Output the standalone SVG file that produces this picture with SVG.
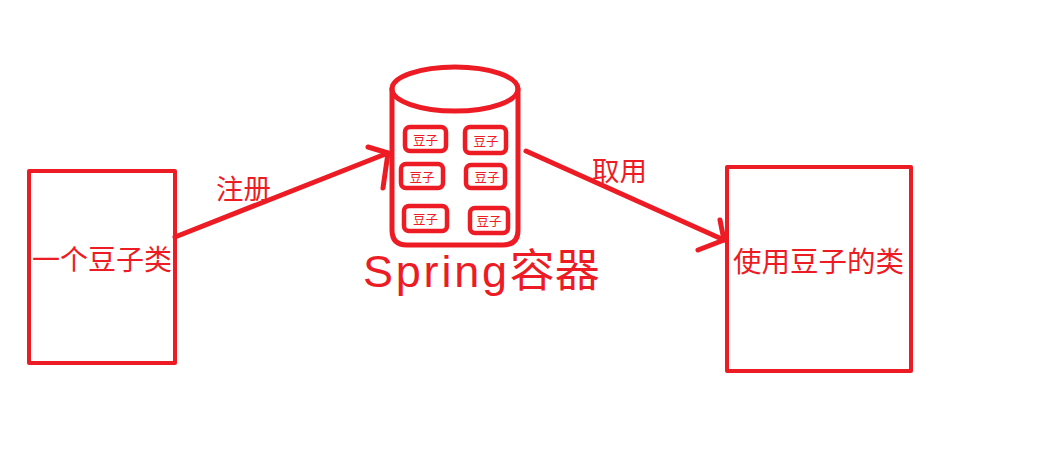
<svg xmlns="http://www.w3.org/2000/svg" width="1037" height="466" viewBox="0 0 1037 466">
<style>
.ln{fill:none;stroke:#ED1C24;stroke-linecap:round;stroke-linejoin:round}
.t{fill:#ED1C24;font-family:"Noto Sans CJK SC","Noto Sans",sans-serif}
.bean{fill:none;stroke:#ED1C24;stroke-width:4.5}
.bt{fill:#ED1C24;font-family:"Noto Sans CJK SC",sans-serif;font-size:12.5px;text-anchor:middle}
</style>
<rect width="1037" height="466" fill="#fff"/>
<g id="bean-class">
<rect x="29" y="171" width="146" height="192" class="ln" stroke-width="4" stroke-linecap="butt" stroke-linejoin="miter"/>
<text x="32" y="270" class="t" font-size="28">一个豆子类</text>
</g>
<g id="user-class">
<rect x="727" y="167" width="184" height="204" class="ln" stroke-width="4" stroke-linecap="butt" stroke-linejoin="miter"/>
<text x="733" y="272" class="t" font-size="28.5">使用豆子的类</text>
</g>
<g id="spring-container">
<ellipse cx="455" cy="89" rx="63" ry="22" class="ln" stroke-width="5"/>
<path d="M392 89 V230 Q392 245 407 245 H503 Q518 245 518 230 V89" class="ln" stroke-width="5"/>
<rect x="405" y="127" width="41" height="24" rx="5" class="bean"/>
<text x="425.5" y="145" class="bt">豆子</text>
<rect x="465" y="127" width="41" height="26" rx="5" class="bean"/>
<text x="486" y="146" class="bt">豆子</text>
<rect x="401" y="164" width="42" height="24" rx="5" class="bean"/>
<text x="422" y="182" class="bt">豆子</text>
<rect x="466" y="165" width="39" height="23" rx="5" class="bean"/>
<text x="487" y="182" class="bt">豆子</text>
<rect x="404" y="206" width="43" height="25" rx="5" class="bean"/>
<text x="425.5" y="224" class="bt">豆子</text>
<rect x="470" y="208" width="38" height="25" rx="5" class="bean"/>
<text x="489" y="226" class="bt">豆子</text>
<text x="363" y="287" class="t" font-size="45"><tspan font-family="Liberation Sans" textLength="144" lengthAdjust="spacing">Spring</tspan><tspan>容器</tspan></text>
</g>
<g id="connectors">
<path d="M175 237 L388 153" class="ln" stroke-width="5"/>
<path d="M368 147 L388 153 L383 188" class="ln" stroke-width="5"/>
<path d="M526 151 L724 240" class="ln" stroke-width="5"/>
<path d="M720 220 L724 240 L698 250" class="ln" stroke-width="5"/>
<text x="216" y="199" class="t" font-size="27.5">注册</text>
<text x="592" y="181" class="t" font-size="27.5">取用</text>
</g>
</svg>
